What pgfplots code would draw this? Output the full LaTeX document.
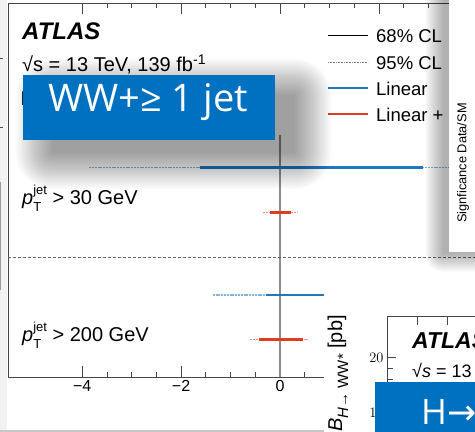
\documentclass[border=0pt]{standalone}
\usepackage{pgfplots}
\pgfplotsset{compat=1.18}
\usepackage{fontspec}
\setmainfont{Liberation Sans}
\newfontfamily\boxfont{Open Sans}
\newfontfamily\symfont{DejaVu Sans}

\definecolor{linblue}{RGB}{31,119,190}
\definecolor{quadred}{RGB}{222,62,30}
\definecolor{slideblue}{RGB}{0,112,192}
\definecolor{framegray}{RGB}{70,70,70}

\newcommand{\fs}[1]{\fontsize{#1}{#1}\selectfont}
\newcommand{\pTjet}{\textit{p}\rlap{\raisebox{-0.35em}{\fs{13}T}}\raisebox{0.5em}{\fs{13}jet}}

% soft drop shadow: stacked translucent rectangles
% #1..#4 core rectangle, #5 number of layers, #6 growth per layer, #7 opacity per layer
\newcommand{\softshadow}[7]{%
  \foreach \i in {0,...,#5} {%
    \pgfmathsetmacro\grow{\i*#6}%
    \fill[black, opacity=#7, rounded corners=\grow pt+0.1pt]
      ({#1-\grow},{#2-\grow}) rectangle ({#3+\grow},{#4+\grow});
  }%
}

\begin{document}
\begin{tikzpicture}[x=1pt,y=1pt]
\fill[white] (0,0) rectangle (475,432);
\begin{scope}
\clip (0,0) rectangle (475,432);

% edge of the neighbouring figure on the left
\fill[black!5] (0,0) rectangle (7,432);
\draw[black!70, line width=0.8pt] (0,374) -- (3,374);
\draw[black!70, line width=0.8pt] (0,305) -- (3,305);
\draw[black!40, line width=1.2pt] (0.7,142) -- (0.7,250);

% ---------------- main summary plot ----------------
\begin{axis}[
  at={(8pt,55pt)}, anchor=south west,
  scale only axis, width=544pt, height=374pt,
  xmin=-5.5, xmax=5.5, ymin=0, ymax=10,
  xtick={-4,-2,0,2,4}, xticklabels={−4,−2,0,2,4},
  minor x tick num=3, ytick=\empty,
  tick align=inside,
  major tick length=11pt, minor tick length=5.5pt,
  axis line style={framegray, line width=0.8pt},
  every tick/.style={framegray, line width=0.8pt},
  tick label style={font=\fs{16}},
]
% reference lines
\addplot[black!45, line width=1.3pt] coordinates {(0,0) (0,6.47)};
\addplot[black!60, line width=0.8pt, dash pattern=on 3pt off 2pt]
  coordinates {(-5.5,3.2) (5.5,3.2)};

% pT(jet) > 30 GeV : 95% CL (dotted) and 68% CL (solid)
\addplot[linblue!55, line width=1.7pt, dash pattern=on 2pt off 0.8pt]
  coordinates {(-3.86,5.6) (3.9,5.6)};
\addplot[linblue, line width=2.2pt] coordinates {(-1.62,5.6) (2.89,5.6)};
\addplot[quadred!55, line width=1.7pt, dash pattern=on 2pt off 0.8pt]
  coordinates {(-0.34,4.4) (0.34,4.4)};
\addplot[quadred, line width=2.6pt] coordinates {(-0.2,4.4) (0.22,4.4)};

% pT(jet) > 200 GeV
\addplot[linblue!55, line width=1.7pt, dash pattern=on 2pt off 0.8pt]
  coordinates {(-1.36,2.2) (1.6,2.2)};
\addplot[linblue, line width=2.2pt] coordinates {(-0.28,2.2) (1.0,2.2)};
\addplot[quadred!55, line width=1.7pt, dash pattern=on 2pt off 0.8pt]
  coordinates {(-0.6,1.0) (0.57,1.0)};
\addplot[quadred, line width=2.6pt] coordinates {(-0.42,1.0) (0.46,1.0)};
\end{axis}

% legend
\draw[black, line width=1.6pt] (328,396.5) -- (368,396.5);
\draw[black!55, line width=0.9pt, dash pattern=on 0.8pt off 0.8pt] (328,370) -- (368,370);
\draw[linblue, line width=2pt] (328,343.5) -- (368,343.5);
\draw[quadred, line width=2pt] (328,317.5) -- (368,317.5);
\node[anchor=base west, inner sep=0pt, font=\fs{18.5}] at (376,389) {68\% CL};
\node[anchor=base west, inner sep=0pt, font=\fs{18.5}] at (376,362) {95\% CL};
\node[anchor=base west, inner sep=0pt, font=\fs{18.5}] at (376,336) {Linear};
\node[anchor=base west, inner sep=0pt, font=\fs{18.5}] at (376,310) {Linear + quadratic};

% labels of the summary plot
\node[anchor=base west, inner sep=0pt, font=\fs{24}\bfseries\itshape] at (22,392) {ATLAS};
\node[anchor=base west, inner sep=0pt, font=\fs{20}] at (22,360) {√s = 13 TeV, 139 fb\textsuperscript{-1}};
\begin{scope}
  \clip (0,300) rectangle (23,340);
  \node[anchor=base west, inner sep=0pt, font=\fs{20}] at (20.5,326) {H → WW*};
\end{scope}
\node[anchor=base west, inner sep=0pt, font=\fs{20}] at (22,227) {\pTjet\ > 30 GeV};
\node[anchor=base west, inner sep=0pt, font=\fs{20}] at (22,90) {\pTjet\ > 200 GeV};

% title box with its shadow
\softshadow{52}{279}{295}{337}{20}{1.8}{0.019}
\fill[slideblue] (23,292) rectangle (275,357);
\node[anchor=base west, inner sep=0pt, text=white, font=\boxfont\fs{38}] at (48,320) {WW+≥ 1 jet};

% rotated caption strip on the right
\softshadow{443}{178}{500}{452}{11}{1.6}{0.026}
\fill[white] (449,180) rectangle (480,440);
\node[rotate=90, inner sep=0pt, font=\fs{12.8}] at (463,269) {Signficance Data/SM};

% ---------------- inset of the cross-section plot ----------------
\fill[white] (324,0) rectangle (480,144);
\begin{axis}[
  at={(387pt,116pt)}, anchor=north west,
  scale only axis, width=200pt, height=200pt,
  xmin=0, xmax=6.667, ymin=5.62, ymax=23.8,
  xtick={0,...,6}, xticklabels={},
  ytick={10,15,20}, minor y tick num=4,
  tick align=inside,
  major tick length=9pt, minor tick length=6pt,
  axis line style={framegray, line width=0.8pt},
  every tick/.style={framegray, line width=0.8pt},
  tick label style={font=\fs{15}},
]
\end{axis}
\node[rotate=90, anchor=east, inner sep=0pt, font=\fs{20}] at (338,117)
  {σ × \textit{B}\raisebox{-0.3em}{\fs{15}\textit{H}→ WW*} [pb]};
\node[anchor=base west, inner sep=0pt, font=\fs{23}\bfseries\itshape] at (412,83) {ATLAS};
\node[anchor=base west, inner sep=0pt, font=\fs{18}] at (412,54) {√\textit{s} = 13 TeV, 139 fb\textsuperscript{-1}};
\fill[slideblue] (375,0) rectangle (480,50);
\node[anchor=base west, inner sep=0pt, text=white, font=\boxfont\fs{35}] at (421,7) {H{\symfont →}WW*};

% frame line at the bottom edge
\draw[black!22, line width=1.5pt] (0,1) -- (324,1);
\end{scope}
\pgfresetboundingbox
\path[use as bounding box] (0,0) rectangle (475,432);
\end{tikzpicture}
\end{document}
